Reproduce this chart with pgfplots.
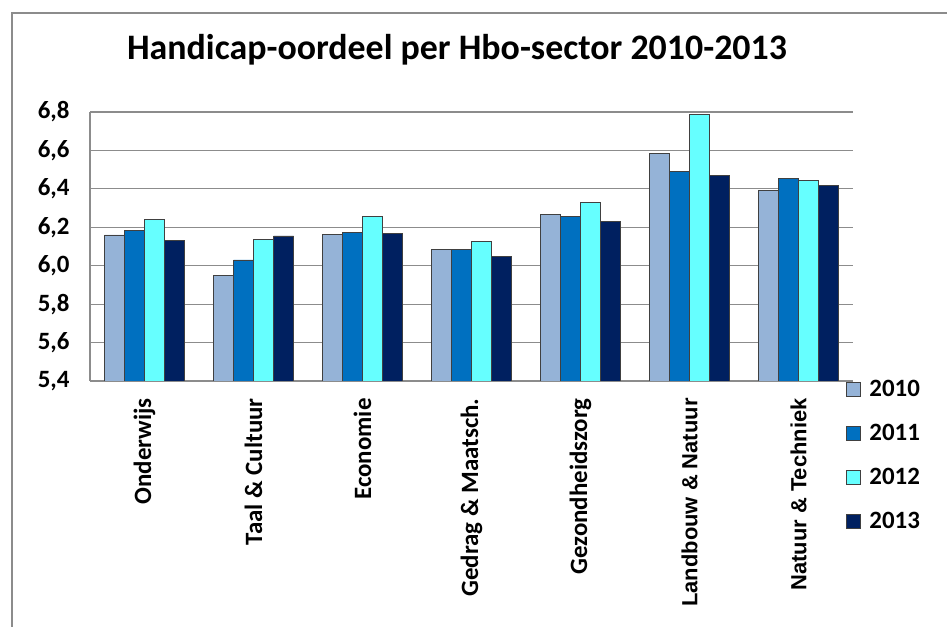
\documentclass[border=0pt]{standalone}
\usepackage{pgfplots}
\pgfplotsset{compat=1.18}
\usetikzlibrary{calc}
\usepackage{fontspec}
\setmainfont{Carlito}
\newfontfamily\arialfont{Liberation Sans}

\definecolor{c2010}{HTML}{95B3D7}
\definecolor{c2011}{HTML}{0070C0}
\definecolor{c2012}{HTML}{66FFFF}
\definecolor{c2013}{HTML}{002060}
\definecolor{gridgray}{HTML}{8C8C8C}

\begin{document}
\begin{tikzpicture}
\begin{axis}[
    scale only axis, width=763bp, height=269bp,
    ybar=0pt, bar width=20bp,
    xmin=-0.5, xmax=6.5,
    ymin=5.4, ymax=6.8,
    ytick={5.4,5.6,5.8,6.0,6.2,6.4,6.6,6.8},
    xtick={0,1,2,3,4,5,6},
    xticklabels={Onderwijs, Taal \& Cultuur, Economie, Gedrag \& Maatsch.,
      Gezondheidszorg,
      {\arialfont\fontsize{22}{26}\selectfont Landbouw \& Natuur},
      {\arialfont\fontsize{22}{26}\selectfont Natuur \& Techniek}},
    xtick style={draw=none}, ytick style={draw=none},
    axis x line*=bottom, axis y line*=left,
    axis line style={gridgray, line width=1.2bp},
    ymajorgrids, grid style={gridgray, line width=1.2bp},
    tick label style={font=\fontsize{25}{30}\selectfont\bfseries},
    /pgf/number format/.cd, use comma, fixed, fixed zerofill, precision=1,
      assume math mode=true,
    /pgfplots/.cd,
    yticklabel style={xshift=-17bp},
    xticklabel style={rotate=90, anchor=east, inner xsep=13bp},
    every axis plot/.append style={draw=black!75, line width=0.8bp},
    legend image code/.code={\draw[#1] (0bp,-7bp) rectangle (14bp,7bp);
      \path (21bp,0bp);},
    legend cell align=left,
    legend style={at={(axis description cs:0.99,0.01)}, anchor=north west,
      draw=none, fill=none, font=\fontsize{25}{30}\selectfont\bfseries,
      row sep=22bp, inner sep=0pt, nodes={inner sep=2bp}},
]
\addplot[fill=c2010] coordinates {(0,6.16) (1,5.95) (2,6.165) (3,6.085) (4,6.265) (5,6.585) (6,6.39)};
\addplot[fill=c2011] coordinates {(0,6.185) (1,6.03) (2,6.175) (3,6.085) (4,6.255) (5,6.49) (6,6.455)};
\addplot[fill=c2012] coordinates {(0,6.24) (1,6.135) (2,6.255) (3,6.125) (4,6.33) (5,6.785) (6,6.445)};
\addplot[fill=c2013] coordinates {(0,6.13) (1,6.155) (2,6.17) (3,6.05) (4,6.23) (5,6.47) (6,6.42)};
\legend{2010,2011,2012,2013}
\coordinate (bl) at (rel axis cs:0,0);
\end{axis}
% everything below in picture pixels, origin at the lower left of the image
\begin{scope}[shift={($(bl)+(-90bp,-246bp)$)}, x=1bp, y=1bp]
\draw[gridgray, line width=1.5bp] (12,-20) -- (12,614) -- (980,614);
\node[font=\fontsize{36}{42}\selectfont\bfseries, anchor=base] at (457,567)
  {Handicap-oordeel per Hbo-sector 2010-2013};
\pgfresetboundingbox
\useasboundingbox (0,0) rectangle (947,627);
\end{scope}
\end{tikzpicture}
\end{document}
